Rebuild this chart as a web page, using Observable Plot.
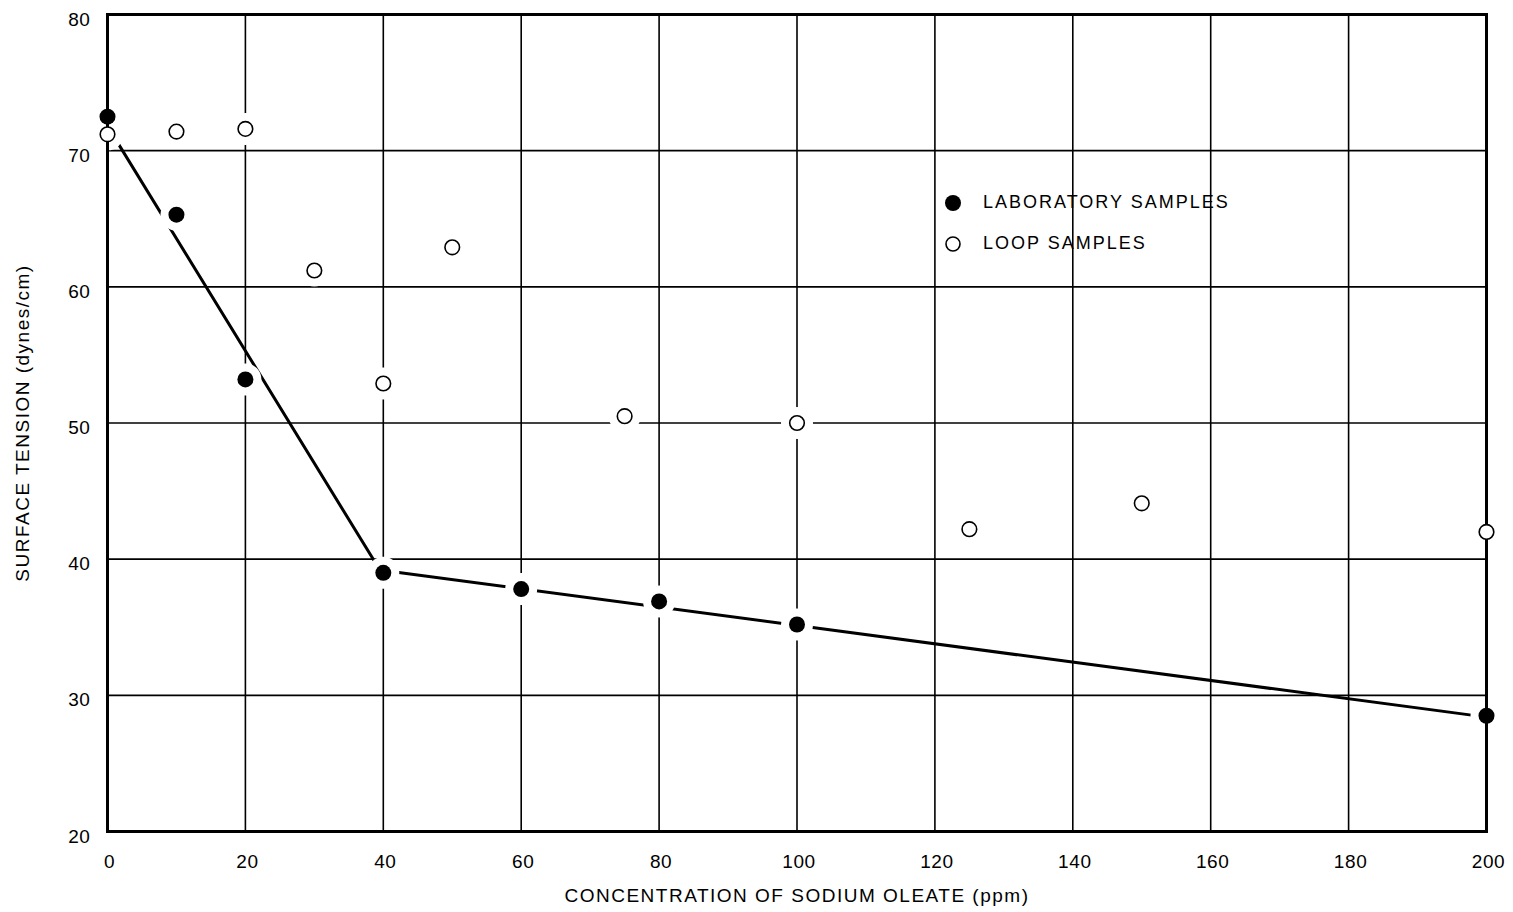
<!DOCTYPE html>
<html>
<head>
<meta charset="utf-8">
<script src="https://cdn.jsdelivr.net/npm/d3@7"></script>
<script src="https://cdn.jsdelivr.net/npm/@observablehq/plot@0.6"></script>
<style>
  html, body { margin: 0; padding: 0; background: #fff; }
  #wrap { position: relative; width: 1513px; height: 912px; }
  #chart svg { letter-spacing: 1.5px; }
  #chart svg g[aria-label$="tick label"] { letter-spacing: 0.6px; }
  #legend { position: absolute; left: 943px; top: 182px; font-family: "Liberation Sans", Arial, Helvetica, sans-serif; font-size: 18px; letter-spacing: 2px; color: #000; }
  #legend .row { display: flex; align-items: center; height: 41px; }
  #legend svg { margin-right: 20px; }
</style>
</head>
<body>
<div id="wrap">
  <div id="chart"></div>
  <div id="legend"></div>
</div>
<script>
// Data
const labConc = [0, 10, 20, 40, 60, 80, 100, 200];
const labTension = [72.5, 65.3, 53.2, 39.0, 37.8, 36.9, 35.2, 28.5];

const loopConc = [0, 10, 20, 30, 40, 50, 75, 100, 125, 150, 200];
const loopTension = [71.2, 71.4, 71.6, 61.2, 52.9, 62.9, 50.5, 50.0, 42.2, 44.1, 42.0];

const fitConc = [0, 39.5, 200];
const fitTension = [71.8, 39.2, 28.4];

const xTicks = [0, 20, 40, 60, 80, 100, 120, 140, 160, 180, 200];
const yTicks = [20, 30, 40, 50, 60, 70, 80];

const legendLabels = ["LABORATORY SAMPLES", "LOOP SAMPLES"];

const lab = labConc.map((c, i) => ({c, t: labTension[i]}));
const loop = loopConc.map((c, i) => ({c, t: loopTension[i]}));
const fit = fitConc.map((c, i) => ({c, t: fitTension[i]}));
const all = lab.concat(loop);

const chart = Plot.plot({
  width: 1513,
  height: 912,
  marginTop: 14,
  marginBottom: 81,
  marginLeft: 107,
  marginRight: 27,
  style: { fontFamily: "'Liberation Sans', Arial, Helvetica, sans-serif", fontSize: "18px", color: "#000", background: "#fff" },
  x: { domain: [0, 200] },
  y: { domain: [20, 80] },
  marks: [
    Plot.ruleX(xTicks.slice(1, -1), { stroke: "#000", strokeWidth: 1.6 }),
    Plot.ruleY(yTicks.slice(1, -1), { stroke: "#000", strokeWidth: 1.6 }),
    Plot.line(fit, { x: "c", y: "t", stroke: "#000", strokeWidth: 3 }),
    Plot.dot(all, { x: "c", y: "t", r: 16, fill: "#fff", stroke: "none" }),
    Plot.frame({ stroke: "#000", strokeWidth: 3 }),
    Plot.dot(lab, { x: "c", y: "t", r: 8, fill: "#000", stroke: "none" }),
    Plot.dot(loop, { x: "c", y: "t", r: 7.3, fill: "#fff", stroke: "#000", strokeWidth: 1.6 }),
    Plot.axisX({ ticks: xTicks, tickSize: 0, tickPadding: 23, dx: 2, label: "CONCENTRATION OF SODIUM OLEATE (ppm)", labelAnchor: "center", labelArrow: "none", labelOffset: 70, fontSize: 19 }),
    Plot.axisY({ ticks: yTicks, tickSize: 0, tickPadding: 17, dy: 5, label: "SURFACE TENSION (dynes/cm)", labelAnchor: "center", labelArrow: "none", labelOffset: 92, fontSize: 19 })
  ]
});
document.getElementById("chart").appendChild(chart);

// Legend
const legend = document.getElementById("legend");
legendLabels.forEach((lbl, i) => {
  const row = document.createElement("div");
  row.className = "row";
  const filled = i === 0;
  row.innerHTML = `<svg width="20" height="20"><circle cx="10" cy="10" r="${filled ? 8 : 7}" fill="${filled ? '#000' : '#fff'}" stroke="#000" stroke-width="${filled ? 0 : 1.6}"></circle></svg><span>${lbl}</span>`;
  legend.appendChild(row);
});
</script>
</body>
</html>
